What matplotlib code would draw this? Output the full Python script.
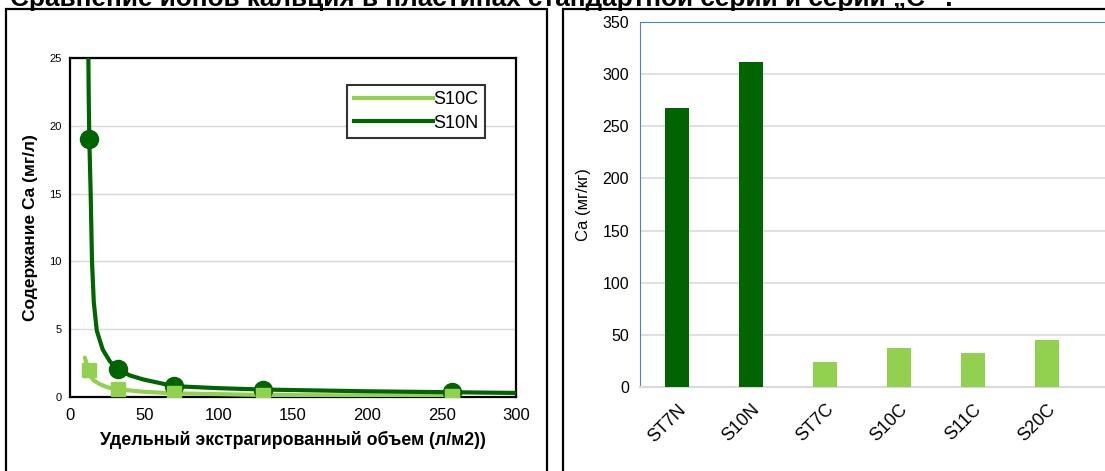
import matplotlib.pyplot as plt
from matplotlib.patches import Rectangle

plt.rcParams['font.family'] = ['Liberation Sans', 'DejaVu Sans']

dark = '#006400'
light = '#92d050'

# measured points (left chart)
vol = [12.5, 32, 70, 130, 257]
ca_s10n = [19.0, 2.1, 0.8, 0.55, 0.35]
ca_s10c = [2.0, 0.57, 0.27, 0.15, 0.08]

# smoothed trend lines
curve_n_x = [12.3, 12.6, 13.0, 13.9, 14.8, 16.0, 18.0, 22.0, 27.0, 32, 40, 49, 70, 100, 130, 200, 257, 300]
curve_n_y = [26.0, 22.0, 19.0, 15.0, 10.0, 7.0, 4.9, 3.5, 2.6, 2.1, 1.6, 1.3, 0.8, 0.65, 0.55, 0.42, 0.35, 0.3]
curve_c_x = [10.0, 11.0, 12.3, 14.0, 15.7, 20, 25, 32, 50, 70, 130, 257]
curve_c_y = [2.9, 2.5, 2.0, 1.5, 1.25, 0.95, 0.72, 0.57, 0.38, 0.27, 0.15, 0.08]

# bar chart (right)
samples = ['ST7N', 'S10N', 'ST7C', 'S10C', 'S11C', 'S20C']
ca_mgkg = [268, 312, 24, 37.5, 32.5, 45]
bar_colors = [dark, dark, light, light, light, light]

fig = plt.figure(figsize=(11.05, 4.71), dpi=100)

# panel frames
fig.patches.append(Rectangle((6 / 1105, -0.05), 541 / 1105, 1.05 - 9 / 471, transform=fig.transFigure,
                             fill=False, edgecolor='black', linewidth=1.6))
fig.patches.append(Rectangle((563 / 1105, -0.05), 560 / 1105, 1.05 - 9 / 471, transform=fig.transFigure,
                             fill=False, edgecolor='black', linewidth=1.6))

fig.text(10 / 1105, 1 - 6 / 471, 'Сравнение ионов кальция в пластинах стандартной серии и серии „С“ .',
         fontsize=18.8, fontweight='bold', ha='left', va='baseline')

# left: line chart
ax1 = fig.add_axes([70 / 1105, 1 - 397 / 471, 446 / 1105, 339 / 471])
ax1.plot(curve_c_x, curve_c_y, color=light, lw=3, solid_capstyle='round', zorder=3)
ax1.plot(curve_n_x, curve_n_y, color=dark, lw=3, solid_capstyle='round', zorder=4)
ax1.plot(vol, ca_s10n, 'o', color=dark, ms=13, zorder=5)
ax1.plot(vol, ca_s10c, 's', color=light, ms=10, zorder=6)
ax1.plot([], [], color=light, lw=3, label='S10C')
ax1.plot([], [], color=dark, lw=3, label='S10N')
ax1.set_xlim(0, 300)
ax1.set_ylim(0, 25)
ax1.set_xticks([0, 50, 100, 150, 200, 250, 300])
ax1.set_yticks([0, 5, 10, 15, 20, 25])
ax1.tick_params(axis='x', labelsize=12, length=0, pad=8)
ax1.tick_params(axis='y', labelsize=8, length=0, pad=6)
ax1.grid(axis='y', color='#d9d9d9', lw=1)
ax1.set_axisbelow(True)
for s in ax1.spines.values():
    s.set_linewidth(1.6)
ax1.set_xlabel('Удельный экстрагированный объем (л/м2))', fontsize=12.8, fontweight='bold', labelpad=6)
ax1.set_ylabel('Содержание Ca (мг/л)', fontsize=12.5, fontweight='bold', labelpad=8)
leg = ax1.legend(loc='upper right', bbox_to_anchor=(0.93, 0.92), fontsize=13, frameon=True,
                 fancybox=False, edgecolor='black', handlelength=4.4, handletextpad=0,
                 borderpad=0.35, labelspacing=0.35, borderaxespad=0)
leg.get_frame().set_linewidth(1.5)
leg.set_zorder(10)

# right: bar chart
ax2 = fig.add_axes([640 / 1105, 1 - 387 / 471, 470 / 1105, 365 / 471])
ax2.bar(range(len(samples)), ca_mgkg, width=0.33, color=bar_colors, zorder=3)
ax2.set_xlim(-0.5, -0.5 + 470 / 74)
ax2.set_ylim(0, 350)
ax2.set_yticks(range(0, 351, 50))
ax2.set_xticks(range(len(samples)))
ax2.set_xticklabels(samples, rotation=45, ha='right', rotation_mode='anchor', fontsize=13)
ax2.tick_params(axis='x', length=0, pad=10)
ax2.tick_params(axis='y', length=0, labelsize=11.5, pad=8)
ax2.grid(axis='y', color='#d9d9d9', lw=1.2)
ax2.set_axisbelow(True)
ax2.spines['left'].set_color('#4f81bd')
ax2.spines['top'].set_color('#4f81bd')
ax2.spines['right'].set_visible(False)
ax2.spines['bottom'].set_color('#d9d9d9')
ax2.spines['bottom'].set_linewidth(1.5)
ax2.set_ylabel('Ca (мг/кг)', fontsize=12, labelpad=8)

fig.savefig('out.png', dpi=100)
